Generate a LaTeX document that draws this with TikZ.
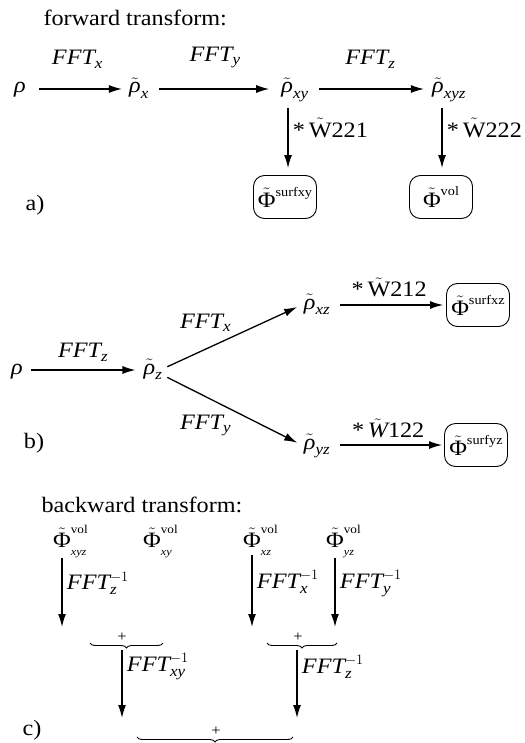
\documentclass[tikz,border=0pt]{standalone}
\usepackage{amsmath}
\usepackage{fontspec}
\setmainfont{Liberation Serif}[FakeStretch=1.1]
\usetikzlibrary{arrows.meta,decorations.pathreplacing}
\newcommand\mi[1]{\text{\itshape #1}}
\newcommand\rr{$\mi{ρ}$}
\newcommand\rt[1]{$\tilde{\mi{ρ}}_{\mi{#1}}$}
\newcommand\fft[1]{$\mi{FFT}_{\mi{#1}}$}
\newcommand\fftinv[1]{$\mi{FFT}_{\mi{#1}}^{-1}$}
\newcommand\phib[1]{$\tilde{\text{Φ}}$\raisebox{1.1ex}{\fontsize{13}{13}\selectfont #1}}
\newcommand\phic[2]{$\tilde{\text{Φ}}^{\text{\fontsize{12}{12}\selectfont #1}}_{\raisebox{-3pt}{\fontsize{11}{11}\selectfont\itshape #2}}$}
\begin{document}
\begin{tikzpicture}[x=1pt,y=-1pt,font=\fontsize{22}{26}\selectfont,
  arr/.style={-{Latex[length=13pt,width=8pt]}, line width=1.3pt},
  tn/.style={text height=14pt, text depth=6pt, inner xsep=2pt, inner ysep=0pt},
  bx/.style={draw, rounded corners=11pt, line width=0.9pt, minimum width=63pt, minimum height=43pt, inner sep=0pt},
  br/.style={decorate, decoration={brace, mirror, amplitude=5pt}, line width=0.9pt},
  pl/.style={font=\fontsize{15}{15}\selectfont, inner sep=0pt}]
\useasboundingbox (0,0) rectangle (524,743);

% ---------- a) forward transform ----------
\node[anchor=west] (t1) at (40,18) {forward transform:};
\node[tn] (r1) at (20,89) {\rr};
\node[tn] (rx) at (139,89) {\rt{x}};
\node[tn] (rxy) at (295,89) {\rt{xy}};
\node[tn] (rxyz) at (449,89) {\rt{xyz}};
\node[bx] (bsxy) at (285,197) {\phib{surfxy}};
\node[bx] (bvol) at (441,197) {\phib{vol}};
\draw[arr, shorten <=11pt, shorten >=5pt] (r1) -- node[above=17pt] {\fft{x}} (rx);
\draw[arr, shorten <=8pt, shorten >=10pt] (rx) -- node[above=17pt] {\fft{y}} (rxy);
\draw[arr, shorten <=8pt, shorten >=6pt] (rxy) -- node[above=17pt] {\fft{z}} (rxyz);
\draw[arr, shorten <=9pt, shorten >=7pt] ([xshift=-7pt]rxy.south) -- ([xshift=-7pt]rxy.south |- bsxy.north)
  node[pos=0.38, right=1pt] {*\,$\tilde{\text{W}}$221};
\draw[arr, shorten <=9pt, shorten >=7pt] ([xshift=-7pt]rxyz.south) -- ([xshift=-7pt]rxyz.south |- bvol.north)
  node[pos=0.38, right=1pt] {*\,$\tilde{\text{W}}$222};
\node (la) at (35,205) {a)};

% ---------- b) ----------
\node[tn] (r2) at (17,370) {\rr};
\node[tn] (rz) at (153,370) {\rt{z}};
\node[tn] (rxz) at (317,305) {\rt{xz}};
\node[tn] (ryz) at (317,445) {\rt{yz}};
\node[bx] (bxz) at (478,305) {\phib{surfxz}};
\node[bx] (byz) at (476,445) {\phib{surfyz}};
\draw[arr, shorten <=6pt, shorten >=6pt] (r2) -- node[above=5pt] {\fft{z}} (rz);
\draw[arr, shorten <=3pt, shorten >=5pt] ([yshift=2pt]rz.east) -- node[pos=0.3, above=14pt] {\fft{x}} (rxz.west);
\draw[arr, shorten <=3pt, shorten >=5pt] ([yshift=-6pt]rz.east) -- node[pos=0.3, below=14pt] {\fft{y}} (ryz.west);
\draw[arr, shorten <=8pt, shorten >=3pt] (rxz) -- node[above=4pt] {*\,$\tilde{\text{W}}$212} (bxz);
\draw[arr, shorten <=8pt, shorten >=2pt] (ryz) -- node[above=3pt] {*\,$\tilde{\mi{W}}$122} (byz);
\node (lb) at (34,443) {b)};

% ---------- c) backward transform ----------
\node[anchor=west] (t2) at (38,505) {backward transform:};
\node[anchor=base west, inner sep=0pt] (p1) at (53,547) {\phic{vol}{xyz}};
\node[anchor=base west, inner sep=0pt] (p2) at (143,547) {\phic{vol}{xy}};
\node[anchor=base west, inner sep=0pt] (p3) at (243,547) {\phic{vol}{xz}};
\node[anchor=base west, inner sep=0pt] (p4) at (326,547) {\phic{vol}{yz}};
\coordinate (e1) at (62,627);
\coordinate (e2) at (252,627);
\coordinate (e3) at (335,627);
\draw[arr] (e1 |- p1.south) -- node[pos=0.37, right=1pt] {\fftinv{z}} (e1);
\draw[arr] (e2 |- p3.south) -- node[pos=0.37, right=1pt] {\fftinv{x}} (e2);
\draw[arr] (e3 |- p4.south) -- node[pos=0.37, right=1pt] {\fftinv{y}} (e3);

\coordinate (b1l) at (90,643);
\coordinate (b1r) at (163,643);
\coordinate (b2l) at (267,643);
\coordinate (b2r) at (337,643);
\draw[br] (b1l) -- (b1r);
\draw[br] (b2l) -- (b2r);
\node[pl] (s1) at (122,637) {+};
\node[pl] (s2) at (298,637) {+};
\coordinate (e4) at (122,718);
\coordinate (e5) at (297,718);
\draw[arr, shorten <=9pt] (s1.south) -- node[pos=0.33, right=1pt] {\fftinv{xy}} (e4);
\draw[arr, shorten <=9pt] (s2.south -| e5) -- node[pos=0.33, right=1pt] {\fftinv{z}} (e5);

\coordinate (b3l) at (137,737);
\coordinate (b3r) at (293,737);
\draw[br] (b3l) -- (b3r);
\node[pl] (s3) at (216,731) {+};
\node (lc) at (32,730) {c)};
\end{tikzpicture}
\end{document}
